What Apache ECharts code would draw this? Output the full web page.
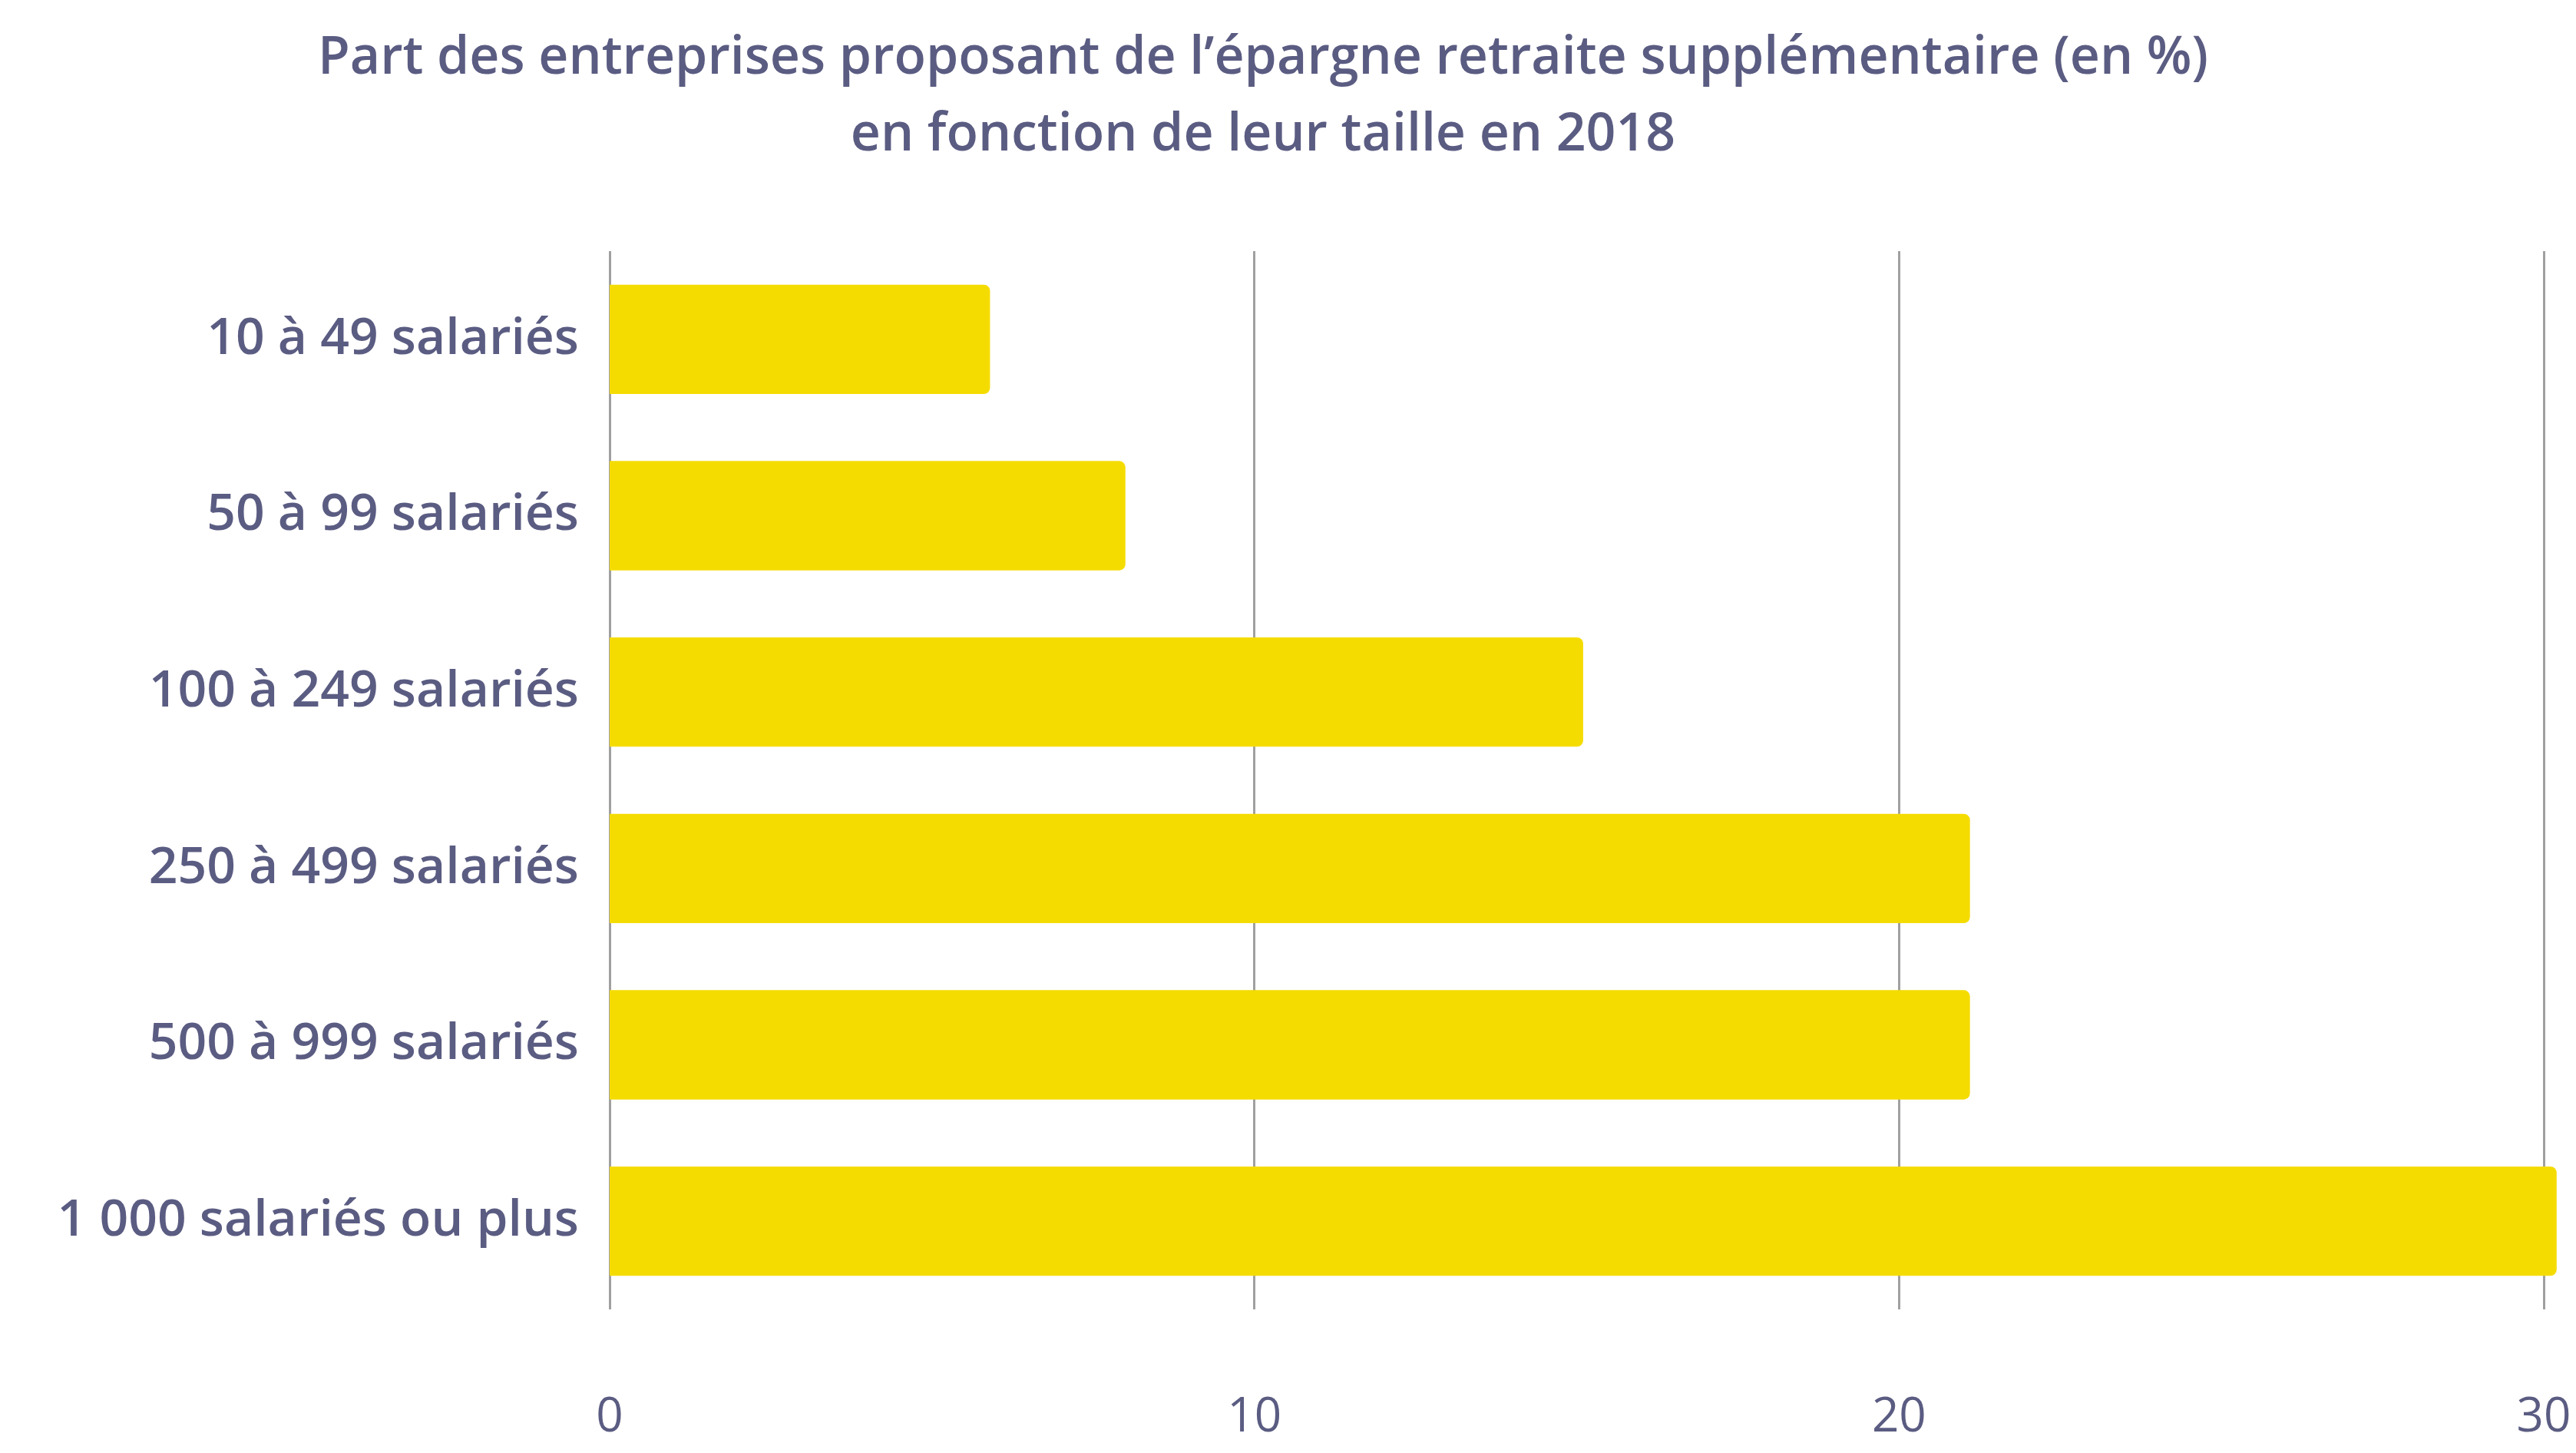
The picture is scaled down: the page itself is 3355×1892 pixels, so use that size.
<!DOCTYPE html>
<html><head><meta charset="utf-8">
<script src="https://cdn.jsdelivr.net/npm/echarts@6/dist/echarts.min.js"></script>
<style>html,body{margin:0;padding:0;background:#fff}#c{width:3355px;height:1892px}</style>
</head><body><div id="c"></div>
<script>
const categories = ["10 à 49 salariés","50 à 99 salariés","100 à 249 salariés","250 à 499 salariés","500 à 999 salariés","1 000 salariés ou plus"];
const values = [5.9, 8, 15.1, 21.1, 21.1, 30.2];
const xTicks = [0, 10, 20, 30];
const txt = '#5b5c82';
const chart = echarts.init(document.getElementById('c'));
chart.setOption({
  backgroundColor:'#fff',
  title:{text:'Part des entreprises proposant de l’épargne retraite supplémentaire (en %)\nen fonction de leur taille en 2018',
    left:1640,top:22,textAlign:'center',
    textStyle:{fontFamily:'Open Sans',fontWeight:600,fontSize:68,color:txt,lineHeight:100}},
  grid:{left:794,right:42,top:327,bottom:187,containLabel:false},
  xAxis:{type:'value',min:0,max:30,interval:10,
    axisLine:{show:false},axisTick:{show:false},
    splitLine:{lineStyle:{color:'#a0a0a0',width:3}},
    axisLabel:{margin:110,fontFamily:'Open Sans',fontSize:62,color:txt,
      formatter:v=>xTicks.includes(v)?String(v):''}},
  yAxis:{type:'category',inverse:true,data:categories,
    axisLine:{show:false},axisTick:{show:false},
    axisLabel:{margin:40,fontFamily:'Open Sans',fontWeight:600,fontSize:66,color:txt}},
  series:[{type:'bar',data:values,clip:false,barCategoryGap:'38%',
    itemStyle:{color:'#f5dc00',borderRadius:[0,8,8,0]}}]
});
</script></body></html>
